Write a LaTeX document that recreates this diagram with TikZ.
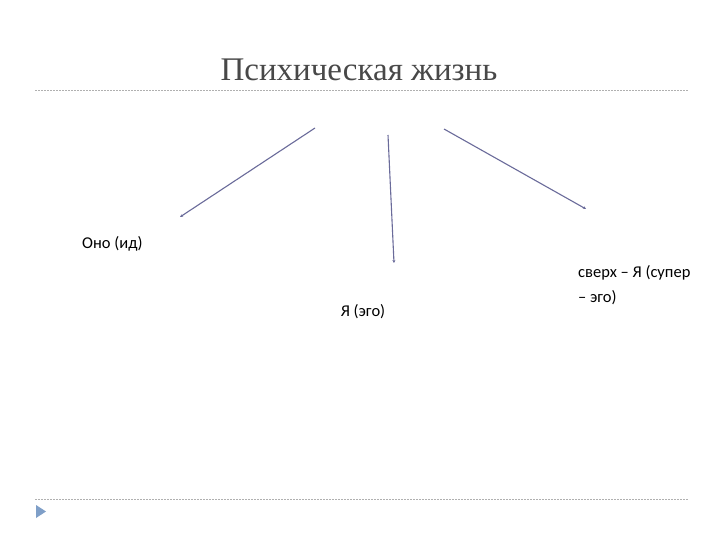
\documentclass[tikz,border=0pt]{standalone}
\usepackage{fontspec}
\setmainfont{Liberation Serif}
\newfontfamily\lblfont{Carlito}
\usetikzlibrary{arrows.meta}
\definecolor{titlegray}{HTML}{484848}
\definecolor{arrowc}{HTML}{6A6B9A}
\definecolor{rulec}{HTML}{B0B0B0}
\definecolor{bulletc}{HTML}{7F9FC8}
\tikzset{
  conn/.style={draw=arrowc, line width=1.1pt, -{Stealth[length=3pt,width=3pt]}},
  lbl/.style={font=\lblfont\fontsize{16.5}{25}\selectfont, text=black, inner sep=0pt},
  rulel/.style={draw=rulec, dash pattern=on 2pt off 1pt, line width=0.6pt}
}
\begin{document}
\begin{tikzpicture}[x=1pt,y=-1pt]
\useasboundingbox (0,0) rectangle (720,540);
\fill[white] (0,0) rectangle (720,540);
\node[font=\fontsize{33}{36}\selectfont, text=titlegray, inner sep=0pt] (title) at (359,70) {Психическая жизнь};
\coordinate (tl) at (35,90); \coordinate (tr) at (688,90);
\draw[rulel] (tl) -- (tr);
\coordinate (bl) at (35,499); \coordinate (br) at (688,499);
\draw[rulel] (bl) -- (br);
\fill[bulletc] (36,505) -- (46,511.5) -- (36,518) -- cycle;
\node[lbl, anchor=west] (id) at (82,244) {Оно (ид)};
\node[lbl] (ego) at (363,312) {Я (эго)};
\node[lbl, anchor=north west, align=left] (super) at (578,265) {сверх – Я (супер\\– эго)};
\coordinate (s1) at (315,128); \coordinate (e1) at (180,217);
\coordinate (s2) at (388,135); \coordinate (e2) at (394,263);
\coordinate (s3) at (444,129); \coordinate (e3) at (586,209);
\draw[conn] (s1) -- (e1);
\draw[conn] (s2) -- (e2);
\draw[conn] (s3) -- (e3);
\end{tikzpicture}
\end{document}
